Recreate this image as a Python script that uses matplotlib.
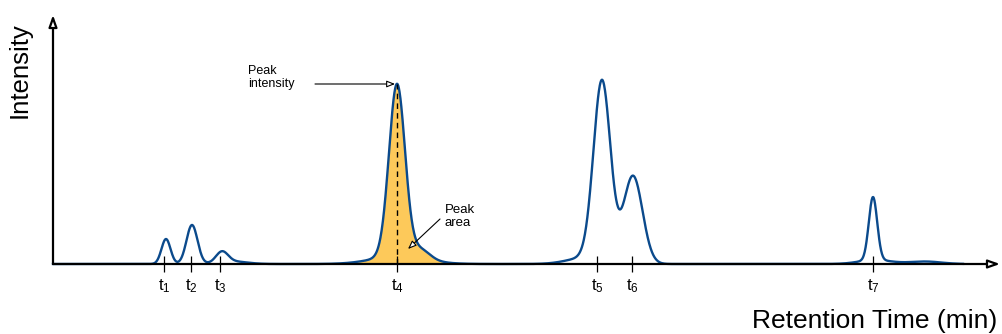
import numpy as np
import matplotlib.pyplot as plt

plt.rcParams['font.family'] = 'Liberation Sans'
plt.rcParams['mathtext.fontset'] = 'custom'
plt.rcParams['mathtext.rm'] = 'Liberation Sans'

LINE = '#0b4a8c'
FILL = '#fdc95a'

# peak table (retention position, height, width) - schematic chromatogram
peak_pos = [113, 139, 169, 180, 344, 346, 368, 532, 549, 580, 820, 822, 872]
peak_height = [25, 39, 11, 2.5, 172, 8, 9, 6, 180, 88, 63, 4, 2.5]
peak_width = [4.5, 5.5, 6, 14, 8.0, 26, 9, 18, 8.5, 9.5, 4.2, 16, 16]

tick_pos = [111, 138, 167, 344, 544, 579, 820]
tick_labels = ['$\\mathregular{t_1}$', '$\\mathregular{t_2}$', '$\\mathregular{t_3}$',
               '$\\mathregular{t_4}$', '$\\mathregular{t_5}$', '$\\mathregular{t_6}$',
               '$\\mathregular{t_7}$']
area_range = [300, 392]

x = np.linspace(0, 910, 3000)
y = np.zeros_like(x)
for c, h, w in zip(peak_pos, peak_height, peak_width):
    y += h * np.exp(-0.5 * ((x - c) / w) ** 2)

fig = plt.figure(figsize=(10.02, 3.34), dpi=100)
ax = fig.add_axes([53 / 1002, 70 / 334, 947 / 1002, 249 / 334])
ax.set_xlim(0, 947)
ax.set_ylim(0, 249)
for s in ax.spines.values():
    s.set_visible(False)
ax.set_yticks([])

# axes with open arrow heads
ax.annotate('', xy=(0, 1), xytext=(0, 0), xycoords='axes fraction',
            arrowprops=dict(arrowstyle='-|>,head_length=0.7,head_width=0.25', fc='white', ec='black',
                            lw=1.6, shrinkA=0, shrinkB=0), zorder=5)
ax.annotate('', xy=(1, 0), xytext=(0, 0), xycoords='axes fraction',
            arrowprops=dict(arrowstyle='-|>,head_length=0.7,head_width=0.25', fc='white', ec='black',
                            lw=1.6, shrinkA=0, shrinkB=0), zorder=5)

mask = (x >= area_range[0]) & (x <= area_range[1])
ax.fill_between(x[mask], 0, y[mask], color=FILL, lw=0, zorder=1)
ax.plot(x, y, color=LINE, lw=1.7, zorder=3, clip_on=False)

ax.set_xticks(tick_pos, tick_labels, fontsize=12)
ax.tick_params(axis='x', direction='inout', length=11, width=0.9, pad=4)

# peak apex marker
apex_x = x[mask][np.argmax(y[mask])]
apex_y = y[mask].max()
ax.plot([apex_x, apex_x], [0, apex_y], ls=(0, (4, 3)), color='black', lw=1, zorder=4)

ax.text(195, 199, 'Peak\nintensity', fontsize=9, va='top', ha='left', linespacing=1.1)
ax.annotate('', xy=(apex_x - 2, 180), xytext=(262, 180),
            arrowprops=dict(arrowstyle='-|>,head_length=0.5,head_width=0.2', fc='white', ec='black',
                            lw=0.8, shrinkA=0, shrinkB=0))
ax.text(392, 60, 'Peak\narea', fontsize=9.5, va='top', ha='left', linespacing=1.1)
ax.annotate('', xy=(355, 15), xytext=(387, 45),
            arrowprops=dict(arrowstyle='-|>,head_length=0.5,head_width=0.2', fc='white', ec='black',
                            lw=0.8, shrinkA=0, shrinkB=0), zorder=5)

fig.text(20 / 1002, 1 - 70 / 334, 'Intensity', rotation=90, fontsize=18.5, ha='center', va='center')
fig.text(997 / 1002, 1 - 321 / 334, 'Retention Time (min)', fontsize=19, ha='right', va='center')

fig.savefig('out.png', dpi=100)
